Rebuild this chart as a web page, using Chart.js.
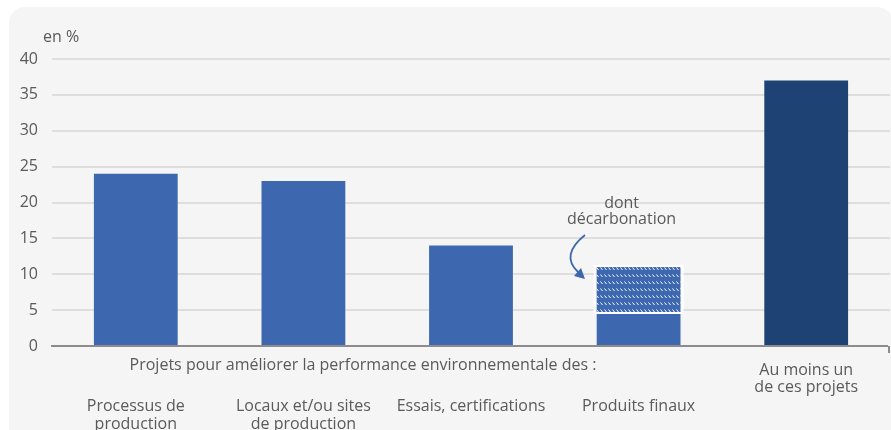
<!DOCTYPE html>
<html>
<head>
<meta charset="utf-8">
<script src="https://cdn.jsdelivr.net/npm/chart.js@4"></script>
<style>
  html, body { margin: 0; padding: 0; background: #ffffff; }
  #wrap { width: 891px; height: 430px; position: relative; }
</style>
</head>
<body>
<div id="wrap"><canvas id="projetsChart" width="891" height="430"></canvas></div>
<script>
// Données
const categories = [
    ['Processus de', 'production'],
    ['Locaux et/ou sites', 'de production'],
    ['Essais, certifications'],
    ['Produits finaux'],
    ['Au moins un', 'de ces projets']
];
const totalValues = [24, 23, 14, 4.6, 37];      // partie pleine
const decarbonationValues = [0, 0, 0, 6.4, 0];  // partie hachurée (dont décarbonation)
const yTicks = [0, 5, 10, 15, 20, 25, 30, 35, 40];

const groupLabel = 'Projets pour améliorer la performance environnementale des :';
const annotationLines = ['dont', 'décarbonation'];

const BLUE = '#3d67ae';
const DARK_BLUE = '#1f4274';
const TEXT = '#5a5a5a';
const FONT = '16px "Open Sans", sans-serif';

// Motif hachuré pour la partie décarbonation
function makeHatch() {
    const c = document.createElement('canvas');
    c.width = 4;
    c.height = 7;
    const g = c.getContext('2d');
    g.fillStyle = BLUE;
    g.fillRect(0, 0, 4, 7);
    g.strokeStyle = '#ffffff';
    g.lineWidth = 1;
    g.beginPath();
    g.moveTo(0.5, 1.5);
    g.lineTo(2.5, 4);
    g.stroke();
    return g.createPattern(c, 'repeat');
}

// Fond gris arrondi + textes et flèche
const decorPlugin = {
    id: 'decor',
    beforeDraw(chart) {
        const ctx = chart.ctx;
        ctx.save();
        ctx.fillStyle = '#f5f5f5';
        ctx.beginPath();
        ctx.roundRect(9, 7, 884, 440, 16);
        ctx.fill();
        ctx.restore();
    },
    afterDatasetsDraw(chart) {
        // liseré blanc autour de la partie hachurée
        const ctx = chart.ctx;
        const meta = chart.getDatasetMeta(1);
        ctx.save();
        ctx.strokeStyle = '#ffffff';
        ctx.lineWidth = 2;
        meta.data.forEach((bar, i) => {
            if (!decarbonationValues[i]) return;
            const p = bar.getProps(['x', 'y', 'base', 'width'], true);
            ctx.strokeRect(p.x - p.width / 2 - 2, p.y - 1, p.width + 4, p.base - p.y + 1);
        });
        ctx.restore();
    },
    afterDraw(chart) {
        const ctx = chart.ctx;
        const x = chart.scales.x;
        const area = chart.chartArea;
        ctx.save();

        // ligne de l'axe des abscisses
        ctx.strokeStyle = '#8c8c8c';
        ctx.lineWidth = 2;
        ctx.beginPath();
        ctx.moveTo(area.left - 1, area.bottom);
        ctx.lineTo(888, area.bottom);
        ctx.stroke();
        ctx.beginPath();
        ctx.moveTo(889, area.bottom);
        ctx.lineTo(889, area.bottom + 7);
        ctx.stroke();

        ctx.font = FONT;
        ctx.fillStyle = TEXT;
        ctx.textBaseline = 'middle';

        ctx.textAlign = 'left';
        ctx.fillText('en %', 43, 37);

        ctx.textAlign = 'center';
        ctx.fillText(groupLabel, 363, 365);

        categories.forEach((lines, i) => {
            const cx = x.getPixelForValue(i);
            const top = i === categories.length - 1 ? 370 : 406;
            const step = i === categories.length - 1 ? 17 : 18;
            lines.forEach((t, j) => ctx.fillText(t, cx, top + j * step));
        });

        // annotation "dont décarbonation"
        const ax = x.getPixelForValue(3) - 17;
        ctx.fillText(annotationLines[0], ax, 203);
        ctx.fillText(annotationLines[1], ax, 219);

        // flèche courbe
        ctx.strokeStyle = BLUE;
        ctx.fillStyle = BLUE;
        ctx.lineWidth = 1.8;
        ctx.beginPath();
        ctx.moveTo(585, 235);
        ctx.quadraticCurveTo(560, 255, 578, 272);
        ctx.stroke();
        ctx.beginPath();
        ctx.moveTo(585, 279);
        ctx.lineTo(574, 276);
        ctx.lineTo(581, 268);
        ctx.closePath();
        ctx.fill();

        ctx.restore();
    }
};

const hatch = makeHatch();

new Chart(document.getElementById('projetsChart'), {
    type: 'bar',
    data: {
        labels: categories.map(c => c.join(' ')),
        datasets: [
            {
                label: 'Total',
                data: totalValues,
                backgroundColor: totalValues.map((v, i) => i === 4 ? DARK_BLUE : BLUE),
                barPercentage: 0.5,
                categoryPercentage: 1.0,
                stack: 's'
            },
            {
                label: 'dont décarbonation',
                data: decarbonationValues,
                backgroundColor: hatch,
                borderWidth: 0,
                barPercentage: 0.5,
                categoryPercentage: 1.0,
                stack: 's'
            }
        ]
    },
    options: {
        responsive: false,
        animation: false,
        layout: { padding: { top: 59, bottom: 84, left: 0, right: 1 } },
        plugins: {
            legend: { display: false },
            tooltip: { enabled: false }
        },
        scales: {
            x: {
                display: false,
                stacked: true
            },
            y: {
                stacked: true,
                min: 0,
                max: 40,
                afterFit(scale) { scale.width = 52; },
                afterBuildTicks(scale) { scale.ticks = yTicks.map(v => ({ value: v })); },
                border: { display: false },
                grid: {
                    color: c => c.tick && c.tick.value === 0 ? 'rgba(0,0,0,0)' : '#dedede',
                    lineWidth: 2,
                    drawTicks: false
                },
                ticks: {
                    padding: 14,
                    color: TEXT,
                    font: { family: '"Open Sans", sans-serif', size: 16 }
                }
            }
        }
    },
    plugins: [decorPlugin]
});
</script>
</body>
</html>
